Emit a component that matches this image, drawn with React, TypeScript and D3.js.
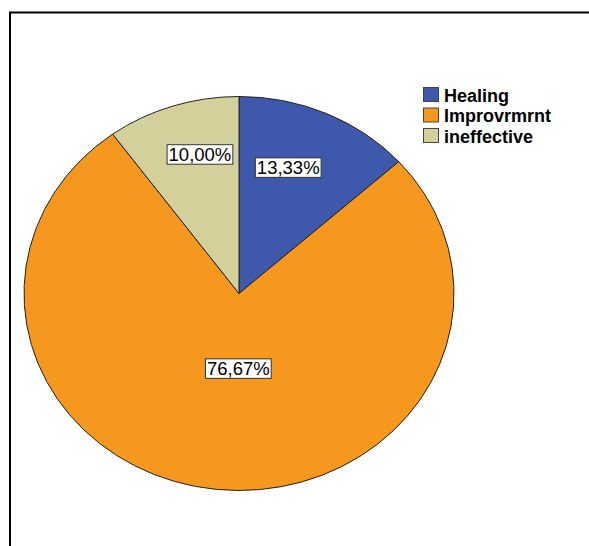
import React, { useEffect, useRef } from "react";
import * as d3 from "d3";

const categories = ["Healing", "Improvrmrnt", "ineffective"];
const counts = [4, 23, 3];
const percentLabels = ["13,33%", "76,67%", "10,00%"];
const colors = ["#3E58AC", "#F7981E", "#D4D09B"];
// label placement: fraction of the radius and fraction through the slice's angle
const labelRadius = [0.68, 0.38, 0.73];
const labelSliceFrac = [0.41, 0.48, 0.6];

const W = 589;
const H = 546;
const cx = 239;
const cy = 293.5;
const rx = 215;
const ry = 197;

export default function App() {
  const ref = useRef<SVGSVGElement | null>(null);

  useEffect(() => {
    const svg = d3.select(ref.current);
    svg.selectAll("*").remove();

    svg.append("rect").attr("x", 0).attr("y", 0).attr("width", W).attr("height", H).attr("fill", "#fff");

    // frame
    svg
      .append("rect")
      .attr("x", 10)
      .attr("y", 12.5)
      .attr("width", 700)
      .attr("height", 700)
      .attr("fill", "none")
      .attr("stroke", "#000")
      .attr("stroke-width", 2);

    const pie = d3.pie<number>().sort(null).value((d) => d);
    const arcs = pie(counts);
    const arc = d3.arc<d3.PieArcDatum<number>>().innerRadius(0).outerRadius(ry);

    const g = svg
      .append("g")
      .attr("transform", `translate(${cx},${cy}) scale(${rx / ry},1)`);

    g.selectAll("path")
      .data(arcs)
      .join("path")
      .attr("d", (d) => arc(d) as string)
      .attr("fill", (_d, i) => colors[i])
      .attr("stroke", "#222")
      .attr("stroke-width", 1)
      .attr("stroke-linejoin", "round")
      .attr("vector-effect", "non-scaling-stroke");

    // labels
    const lg = svg.append("g");
    arcs.forEach((d, i) => {
      const a = d.startAngle + (d.endAngle - d.startAngle) * labelSliceFrac[i];
      const x = cx + Math.sin(a) * rx * labelRadius[i];
      const y = cy - Math.cos(a) * ry * labelRadius[i];
      const grp = lg.append("g");
      const t = grp
        .append("text")
        .attr("x", x)
        .attr("y", y + 0.5)
        .attr("text-anchor", "middle")
        .attr("dominant-baseline", "central")
        .attr("font-family", "Liberation Sans, Arial, sans-serif")
        .attr("font-size", 18.5)
        .attr("fill", "#000")
        .text(percentLabels[i]);
      const bb = (t.node() as SVGTextElement).getBBox();
      grp
        .insert("rect", "text")
        .attr("x", bb.x - 1.5)
        .attr("y", y - 9.5)
        .attr("width", bb.width + 3)
        .attr("height", 19.5)
        .attr("fill", "#fff")
        .attr("stroke", "#333")
        .attr("stroke-width", 1);
    });

    // legend
    const leg = svg.append("g").attr("transform", "translate(423,87)");
    categories.forEach((c, i) => {
      const row = leg.append("g").attr("transform", `translate(0,${i * 20.5})`);
      row
        .append("rect")
        .attr("x", 0.5)
        .attr("y", 0.5)
        .attr("width", 15)
        .attr("height", 14)
        .attr("fill", colors[i])
        .attr("stroke", "#444")
        .attr("stroke-width", 1);
      row
        .append("text")
        .attr("x", 21)
        .attr("y", 14.5)
        .attr("font-family", "Liberation Sans, Arial, sans-serif")
        .attr("font-weight", "bold")
        .attr("font-size", 18)
        .attr("fill", "#000")
        .text(c);
    });
  }, []);

  return (
    <svg
      ref={ref}
      width={W}
      height={H}
      style={{ position: "absolute", left: 0, top: 0, display: "block" }}
    />
  );
}
